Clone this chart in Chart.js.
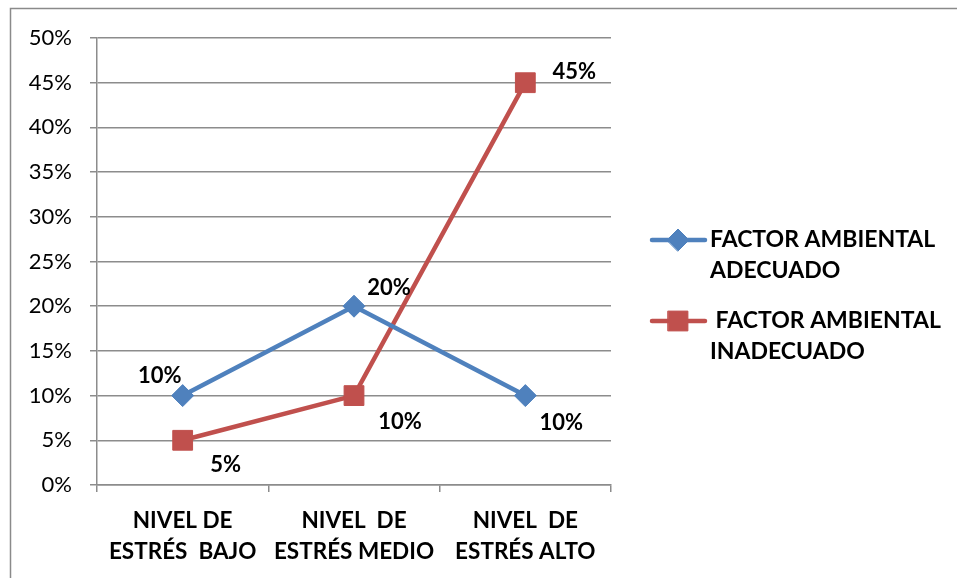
<!DOCTYPE html>
<html>
<head>
<meta charset="utf-8">
<script src="https://cdn.jsdelivr.net/npm/chart.js@4.4.1/dist/chart.umd.min.js"></script>
<style>
  html, body { margin: 0; padding: 0; background: #fff; }
  #wrap { width: 957px; height: 578px; position: relative; }
</style>
</head>
<body>
<div id="wrap"><canvas id="chart"></canvas></div>
<script>
const categories = [
    ["NIVEL DE", "ESTRÉS  BAJO"],
    ["NIVEL  DE", "ESTRÉS MEDIO"],
    ["NIVEL  DE", "ESTRÉS ALTO"]
];
const adecuado = [10, 20, 10];
const inadecuado = [5, 10, 45];
const seriesNames = [["FACTOR AMBIENTAL", "ADECUADO"], [" FACTOR AMBIENTAL", "INADECUADO"]];
const yTicks = [0, 5, 10, 15, 20, 25, 30, 35, 40, 45, 50];

const BLUE = "#4F81BD";
const RED = "#C0504D";
const GRID = "#8c8c8c";
const FONT = "Lato, 'DejaVu Sans', sans-serif";

// offset of each value label from its point (dx, dy)
const labelOffsets = [
    [[-23, -20], [35, -18], [36, 27]],
    [[43, 25], [46, 26], [49, -11]]
];

const labelsPlugin = {
    id: "valueLabels",
    afterDatasetsDraw(chart) {
        const ctx = chart.ctx;
        ctx.save();
        ctx.font = "bold 22px " + FONT;
        ctx.fillStyle = "#000";
        ctx.textAlign = "center";
        ctx.textBaseline = "middle";
        chart.data.datasets.forEach((ds, i) => {
            chart.getDatasetMeta(i).data.forEach((pt, j) => {
                const off = labelOffsets[i][j];
                ctx.fillText(ds.data[j] + "%", pt.x + off[0], pt.y + off[1]);
            });
        });
        ctx.restore();
    }
};

const framePlugin = {
    id: "frameAndLegend",
    beforeDraw(chart) {
        const ctx = chart.ctx;
        ctx.save();
        ctx.strokeStyle = "#8a8a8a";
        ctx.lineWidth = 1.5;
        ctx.beginPath();
        ctx.moveTo(957, 8.5);
        ctx.lineTo(10.5, 8.5);
        ctx.lineTo(10.5, 578);
        ctx.stroke();
        ctx.restore();
    },
    afterDraw(chart) {
        const ctx = chart.ctx;
        const items = [
            { color: BLUE, style: "rectRot", radius: 11, y: 240 },
            { color: RED, style: "rect", radius: 14, y: 321 }
        ];
        ctx.save();
        items.forEach((it, i) => {
            ctx.strokeStyle = it.color;
            ctx.lineWidth = 4.5;
            ctx.lineCap = "round";
            ctx.beginPath();
            ctx.moveTo(652, it.y);
            ctx.lineTo(705, it.y);
            ctx.stroke();
            ctx.fillStyle = it.color;
            ctx.strokeStyle = it.color;
            ctx.lineWidth = 1;
            Chart.helpers.drawPoint(ctx, { pointStyle: it.style, radius: it.radius, borderWidth: 1 }, 678, it.y);
            ctx.fillStyle = "#000";
            ctx.font = "bold 23px " + FONT;
            ctx.textAlign = "left";
            ctx.textBaseline = "middle";
            ctx.fillText(seriesNames[i][0], 710, it.y);
            ctx.fillText(seriesNames[i][1], 710, it.y + 31);
        });
        ctx.restore();
    }
};

new Chart(document.getElementById("chart"), {
    type: "line",
    data: {
        labels: categories,
        datasets: [
            {
                label: seriesNames[0].join(" "),
                data: adecuado,
                borderColor: BLUE,
                backgroundColor: BLUE,
                borderWidth: 4.5,
                pointStyle: "rectRot",
                pointRadius: 11,
                pointHoverRadius: 11,
                pointBorderWidth: 1,
                tension: 0
            },
            {
                label: seriesNames[1].join(" "),
                data: inadecuado,
                borderColor: RED,
                backgroundColor: RED,
                borderWidth: 4.5,
                pointStyle: "rect",
                pointRadius: 14,
                pointHoverRadius: 14,
                pointBorderWidth: 1,
                tension: 0
            }
        ]
    },
    options: {
        responsive: true,
        maintainAspectRatio: false,
        animation: false,
        events: [],
        layout: { padding: { top: 38, right: 346, bottom: 0, left: 0 } },
        plugins: {
            legend: { display: false },
            tooltip: { enabled: false }
        },
        scales: {
            x: {
                offset: true,
                grid: {
                    offset: true,
                    drawOnChartArea: false,
                    drawTicks: true,
                    tickLength: 7,
                    color: GRID,
                    lineWidth: 1.5
                },
                border: { display: true, color: GRID, width: 1.5 },
                ticks: {
                    color: "#000",
                    font: { family: FONT, size: 22.5, weight: "bold", lineHeight: 1.35 },
                    padding: 14,
                    maxRotation: 0,
                    autoSkip: false
                },
                afterFit(scale) { scale.height = 93; }
            },
            y: {
                min: 0,
                max: 50,
                afterBuildTicks(scale) { scale.ticks = yTicks.map(v => ({ value: v })); },
                grid: {
                    color: GRID,
                    lineWidth: 1.5,
                    tickLength: 7
                },
                border: { display: true, color: GRID, width: 1.5 },
                ticks: {
                    color: "#000",
                    font: { family: FONT, size: 22 },
                    padding: 18,
                    callback: v => v + "%"
                },
                afterFit(scale) { scale.width = 97; }
            }
        }
    },
    plugins: [labelsPlugin, framePlugin]
});
</script>
</body>
</html>
